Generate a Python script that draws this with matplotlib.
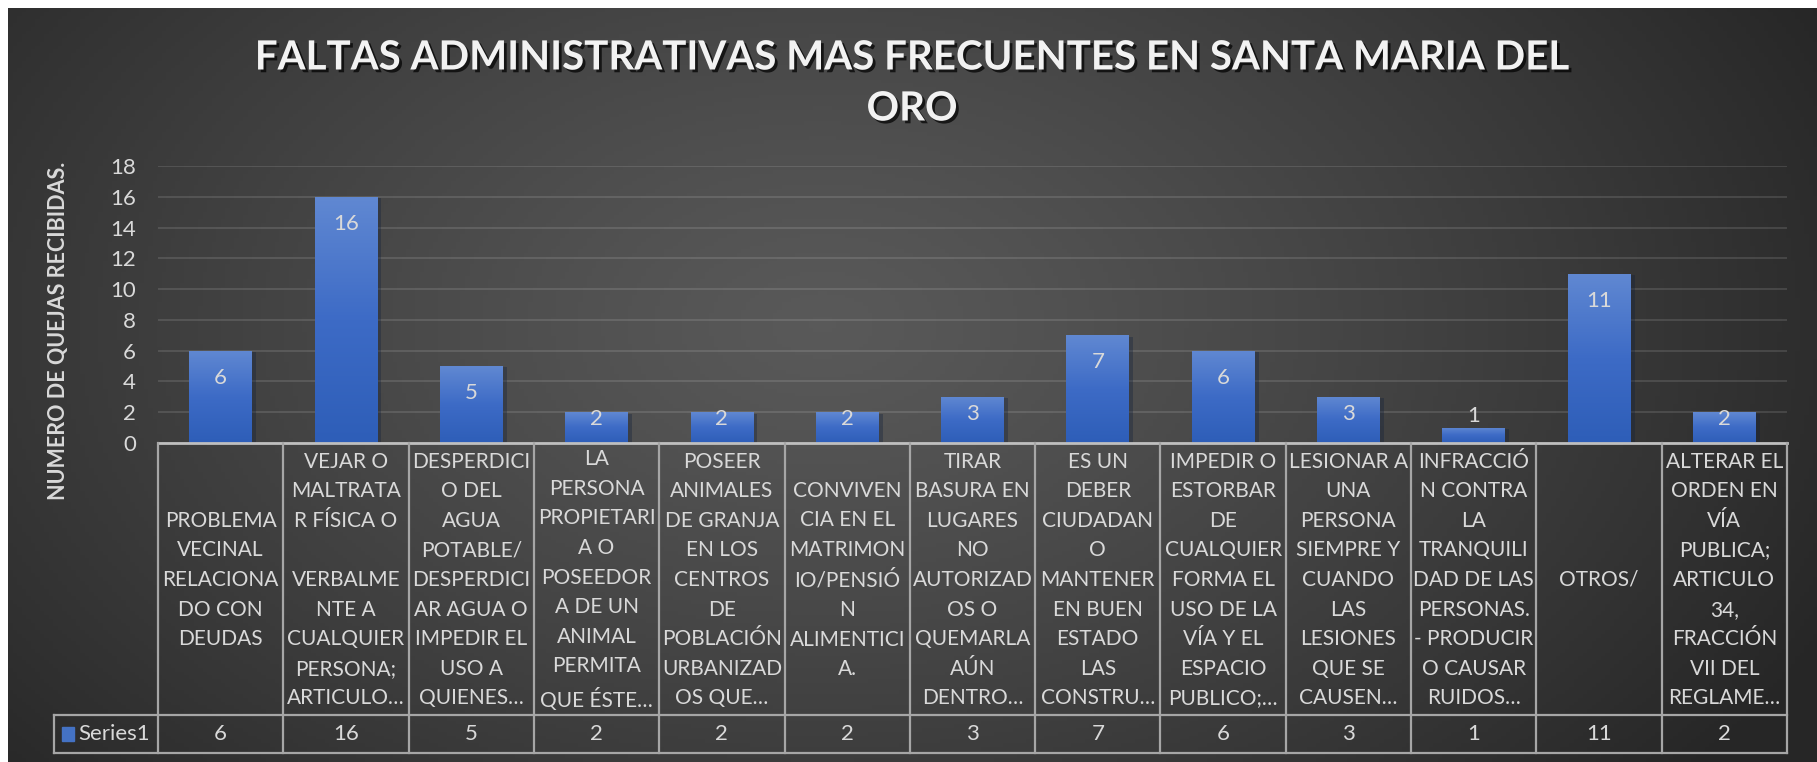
import numpy as np
import matplotlib
matplotlib.use('Agg')
import matplotlib.pyplot as plt
import matplotlib.patheffects as pe

# data
categories = [
    "PROBLEMA\nVECINAL\nRELACIONA\nDO CON\nDEUDAS",
    "VEJAR O\nMALTRATA\nR FÍSICA O\n\nVERBALME\nNTE A\nCUALQUIER\nPERSONA;\nARTICULO…",
    "DESPERDICI\nO DEL\nAGUA\nPOTABLE/\nDESPERDICI\nAR AGUA O\nIMPEDIR EL\nUSO A\nQUIENES…",
    "LA\nPERSONA\nPROPIETARI\nA O\nPOSEEDOR\nA DE UN\nANIMAL\nPERMITA\nQUE ÉSTE…",
    "POSEER\nANIMALES\nDE GRANJA\nEN LOS\nCENTROS\nDE\nPOBLACIÓN\nURBANIZAD\nOS QUE…",
    "CONVIVEN\nCIA EN EL\nMATRIMON\nIO/PENSIÓ\nN\nALIMENTICI\nA.",
    "TIRAR\nBASURA EN\nLUGARES\nNO\nAUTORIZAD\nOS O\nQUEMARLA\nAÚN\nDENTRO…",
    "ES UN\nDEBER\nCIUDADAN\nO\nMANTENER\nEN BUEN\nESTADO\nLAS\nCONSTRU…",
    "IMPEDIR O\nESTORBAR\nDE\nCUALQUIER\nFORMA EL\nUSO DE LA\nVÍA Y EL\nESPACIO\nPUBLICO;…",
    "LESIONAR A\nUNA\nPERSONA\nSIEMPRE Y\nCUANDO\nLAS\nLESIONES\nQUE SE\nCAUSEN…",
    "INFRACCIÓ\nN CONTRA\nLA\nTRANQUILI\nDAD DE LAS\nPERSONAS.\n- PRODUCIR\nO CAUSAR\nRUIDOS…",
    "OTROS/",
    "ALTERAR EL\nORDEN EN\nVÍA\nPUBLICA;\nARTICULO\n34,\nFRACCIÓN\nVII DEL\nREGLAME…",
]
values = [6, 16, 5, 2, 2, 2, 3, 7, 6, 3, 1, 11, 2]
series_name = "Series1"
title = "FALTAS ADMINISTRATIVAS MAS FRECUENTES EN SANTA MARIA DEL\nORO"
ylabel = "NUMERO DE QUEJAS RECIBIDAS."
yticks = [0, 2, 4, 6, 8, 10, 12, 14, 16, 18]

W, H = 1817, 762
TXT = '#D9D9D9'
LINE = '#A6A6A6'
FONT = 'Lato'
FS = 15

fig = plt.figure(figsize=(W / 100, H / 100), dpi=100, facecolor='white')

# radial background
bg = fig.add_axes([8 / W, 0, 1 - 8 / W, 1 - 8 / H], zorder=-10)
gx, gy = np.meshgrid(np.linspace(0, 1, 400), np.linspace(0, 1, 200))
r = np.sqrt(((gx - 0.45) / 0.62) ** 2 + ((gy - 0.42) / 0.95) ** 2)
shade = 0.35 - (0.35 - 0.15) * np.clip(r, 0, 1) ** 1.2
bg.imshow(np.dstack([shade] * 3), aspect='auto', extent=[0, 1, 1, 0])
bg.set_axis_off()

# pixel layout
x_left, x_right = 158, 1787
y_zero, y_top = 443, 166
y_valrow, y_bottom = 715, 753
leg_left = 54
n = len(values)
cw = (x_right - x_left) / n

ax = fig.add_axes([x_left / W, 1 - y_zero / H, (x_right - x_left) / W, (y_zero - y_top) / H])
ax.patch.set_alpha(0)
ax.set_yticks(yticks)
ax.set_xticks([])
ax.tick_params(axis='y', length=0, labelsize=16, labelcolor=TXT, pad=16)
for lab in ax.get_yticklabels():
    lab.set_fontfamily(FONT)
for s in ax.spines.values():
    s.set_visible(False)
ax.grid(axis='y', color='white', alpha=0.13, lw=1.3)
ax.set_axisbelow(True)

xs = np.arange(n)
bars = ax.bar(xs, values, width=0.5, color='#3F6DC6', zorder=2,
              path_effects=[pe.SimplePatchShadow(offset=(3, -1), alpha=0.35), pe.Normal()])
grad = np.linspace(0, 1, 100).reshape(-1, 1)
cmap = matplotlib.colors.LinearSegmentedColormap.from_list('bar', ['#2E5EB8', '#3D6BC6', '#6088D2'])
for b in bars:
    im = ax.imshow(grad, cmap=cmap, aspect='auto', origin='lower', zorder=3,
                   extent=[b.get_x(), b.get_x() + b.get_width(), 0, b.get_height()])
    im.set_clip_path(b)
ax.set_xlim(-0.5, n - 0.5)
ax.set_ylim(0, 18)

for x, v in zip(xs, values):
    if v >= 2:
        y = v - np.interp(v, [2, 3, 5], [0.45, 1.1, 1.75])
    else:
        y = v + 0.75
    ax.text(x, y, str(v), ha='center', va='center', fontsize=16, color=TXT,
            family=FONT, zorder=5)

ax.set_ylabel(ylabel, fontsize=15.5, fontweight='bold', color=TXT, family=FONT)
ax.yaxis.set_label_coords(-(x_left - 69) / (x_right - x_left),
                          0.5 - (331 - (y_zero + y_top) / 2) / (y_zero - y_top))

# data table
tax = fig.add_axes([leg_left / W, 1 - y_bottom / H, (x_right - leg_left) / W, (y_bottom - y_zero) / H])
tax.set_axis_off()
xl = -0.5 - (x_left - leg_left) / cw
tax.set_xlim(xl, n - 0.5)
tax.set_ylim(y_bottom, y_zero)
kw = dict(color=LINE, lw=1.6, clip_on=False)
tax.plot([-0.5, n - 0.5], [y_zero, y_zero], color='#BFBFBF', lw=2, clip_on=False)
tax.plot([xl, n - 0.5], [y_valrow, y_valrow], **kw)
tax.plot([xl, n - 0.5], [y_bottom, y_bottom], **kw)
tax.plot([xl, xl], [y_valrow, y_bottom], **kw)
for i in range(n + 1):
    tax.plot([i - 0.5, i - 0.5], [y_zero, y_bottom], **kw)

for x, lab, v in zip(xs, categories, values):
    tax.text(x, (y_zero + y_valrow) / 2 + 1, lab, ha='center', va='center', fontsize=FS,
             color=TXT, family=FONT, linespacing=1.6, multialignment='center')
    tax.text(x, (y_valrow + y_bottom) / 2, str(v), ha='center', va='center', fontsize=16,
             color=TXT, family=FONT)

tax.add_patch(matplotlib.patches.Rectangle((xl + 0.06, (y_valrow + y_bottom) / 2 - 7), 0.1, 14,
                                           color='#4472C4', clip_on=False))
tax.text(xl + 0.19, (y_valrow + y_bottom) / 2, series_name, ha='left', va='center',
         fontsize=16, color=TXT, family=FONT)

# title
t1, t2 = title.split('\n')
for line, yy in [(t1, 58), (t2, 109)]:
    fig.text(912 / W, 1 - yy / H, line, ha='center', va='center', fontsize=29,
             fontweight='bold', color='#F2F2F2', family=FONT,
             path_effects=[pe.withSimplePatchShadow(offset=(2, -2), shadow_rgbFace='black', alpha=0.7)])

fig.savefig('out.png', dpi=100, facecolor='white')
